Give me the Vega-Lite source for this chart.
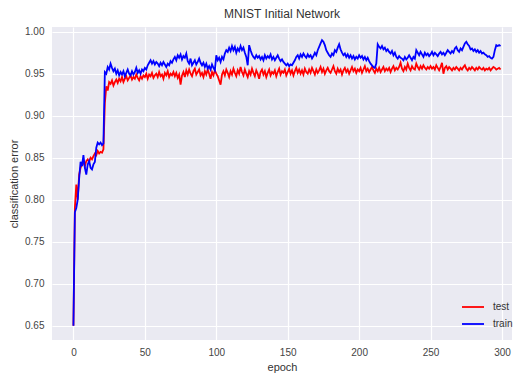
{
  "$schema": "https://vega.github.io/schema/vega-lite/v6.json",
  "autosize": "none",
  "width": 460,
  "height": 313,
  "padding": {"left": 52, "top": 27, "right": 2, "bottom": 33},
  "background": "white",
  "config": {
    "font": "Liberation Sans",
    "view": {"fill": "#EAEAF2", "stroke": null},
    "axis": {"domain": false, "ticks": false, "gridColor": "white", "gridWidth": 1.2, "labelColor": "#444", "labelFontSize": 10, "titleColor": "#333", "titleFontSize": 11, "titleFontWeight": "normal"},
    "title": {"fontSize": 12, "fontWeight": "normal", "color": "#333", "offset": 6}
  },
  "title": "MNIST Initial Network",
  "data": {"values": [
    {"epoch":0,"test":0.650,"train":0.650},{"epoch":1,"test":0.790,"train":0.785},{"epoch":2,"test":0.818,"train":0.790},{"epoch":3,"test":0.800,"train":0.800},{"epoch":4,"test":0.830,"train":0.825},{"epoch":5,"test":0.838,"train":0.845},{"epoch":6,"test":0.842,"train":0.840},{"epoch":7,"test":0.845,"train":0.853},{"epoch":8,"test":0.840,"train":0.838},{"epoch":9,"test":0.846,"train":0.830},
    {"epoch":10,"test":0.848,"train":0.842},{"epoch":11,"test":0.845,"train":0.846},{"epoch":12,"test":0.850,"train":0.838},{"epoch":13,"test":0.848,"train":0.836},{"epoch":14,"test":0.852,"train":0.842},{"epoch":15,"test":0.855,"train":0.845},{"epoch":16,"test":0.853,"train":0.862},{"epoch":17,"test":0.858,"train":0.868},{"epoch":18,"test":0.855,"train":0.866},{"epoch":19,"test":0.857,"train":0.868},
    {"epoch":20,"test":0.856,"train":0.865},{"epoch":21,"test":0.860,"train":0.867},{"epoch":22,"test":0.915,"train":0.952},{"epoch":23,"test":0.935,"train":0.950},{"epoch":24,"test":0.930,"train":0.958},{"epoch":25,"test":0.940,"train":0.955},{"epoch":26,"test":0.938,"train":0.962},{"epoch":27,"test":0.942,"train":0.957},{"epoch":28,"test":0.936,"train":0.953},{"epoch":29,"test":0.940,"train":0.956},
    {"epoch":30,"test":0.943,"train":0.950},{"epoch":31,"test":0.939,"train":0.954},{"epoch":32,"test":0.944,"train":0.948},{"epoch":33,"test":0.941,"train":0.952},{"epoch":34,"test":0.946,"train":0.949},{"epoch":35,"test":0.940,"train":0.953},{"epoch":36,"test":0.944,"train":0.947},{"epoch":37,"test":0.947,"train":0.951},{"epoch":38,"test":0.942,"train":0.955},{"epoch":39,"test":0.945,"train":0.950},
    {"epoch":40,"test":0.948,"train":0.948},{"epoch":41,"test":0.943,"train":0.953},{"epoch":42,"test":0.946,"train":0.949},{"epoch":43,"test":0.944,"train":0.952},{"epoch":44,"test":0.949,"train":0.957},{"epoch":45,"test":0.945,"train":0.951},{"epoch":46,"test":0.942,"train":0.954},{"epoch":47,"test":0.947,"train":0.950},{"epoch":48,"test":0.944,"train":0.955},{"epoch":49,"test":0.948,"train":0.953},
    {"epoch":50,"test":0.946,"train":0.957},{"epoch":51,"test":0.950,"train":0.955},{"epoch":52,"test":0.944,"train":0.960},{"epoch":53,"test":0.949,"train":0.963},{"epoch":54,"test":0.947,"train":0.966},{"epoch":55,"test":0.951,"train":0.962},{"epoch":56,"test":0.945,"train":0.965},{"epoch":57,"test":0.948,"train":0.961},{"epoch":58,"test":0.950,"train":0.964},{"epoch":59,"test":0.946,"train":0.962},
    {"epoch":60,"test":0.952,"train":0.959},{"epoch":61,"test":0.947,"train":0.963},{"epoch":62,"test":0.949,"train":0.960},{"epoch":63,"test":0.944,"train":0.964},{"epoch":64,"test":0.951,"train":0.961},{"epoch":65,"test":0.948,"train":0.958},{"epoch":66,"test":0.953,"train":0.962},{"epoch":67,"test":0.946,"train":0.960},{"epoch":68,"test":0.950,"train":0.965},{"epoch":69,"test":0.948,"train":0.963},
    {"epoch":70,"test":0.952,"train":0.967},{"epoch":71,"test":0.947,"train":0.970},{"epoch":72,"test":0.951,"train":0.966},{"epoch":73,"test":0.945,"train":0.972},{"epoch":74,"test":0.949,"train":0.969},{"epoch":75,"test":0.937,"train":0.973},{"epoch":76,"test":0.948,"train":0.967},{"epoch":77,"test":0.952,"train":0.971},{"epoch":78,"test":0.946,"train":0.969},{"epoch":79,"test":0.954,"train":0.974},
    {"epoch":80,"test":0.949,"train":0.965},{"epoch":81,"test":0.955,"train":0.962},{"epoch":82,"test":0.950,"train":0.968},{"epoch":83,"test":0.947,"train":0.960},{"epoch":84,"test":0.953,"train":0.963},{"epoch":85,"test":0.956,"train":0.966},{"epoch":86,"test":0.949,"train":0.961},{"epoch":87,"test":0.952,"train":0.964},{"epoch":88,"test":0.955,"train":0.968},{"epoch":89,"test":0.948,"train":0.963},
    {"epoch":90,"test":0.951,"train":0.960},{"epoch":91,"test":0.946,"train":0.963},{"epoch":92,"test":0.953,"train":0.958},{"epoch":93,"test":0.949,"train":0.962},{"epoch":94,"test":0.955,"train":0.956},{"epoch":95,"test":0.950,"train":0.959},{"epoch":96,"test":0.944,"train":0.955},{"epoch":97,"test":0.952,"train":0.961},{"epoch":98,"test":0.948,"train":0.957},{"epoch":99,"test":0.954,"train":0.954},
    {"epoch":100,"test":0.950,"train":0.972},{"epoch":101,"test":0.947,"train":0.966},{"epoch":102,"test":0.942,"train":0.969},{"epoch":103,"test":0.937,"train":0.964},{"epoch":104,"test":0.949,"train":0.970},{"epoch":105,"test":0.953,"train":0.967},{"epoch":106,"test":0.948,"train":0.974},{"epoch":107,"test":0.955,"train":0.978},{"epoch":108,"test":0.951,"train":0.976},{"epoch":109,"test":0.946,"train":0.981},
    {"epoch":110,"test":0.953,"train":0.977},{"epoch":111,"test":0.949,"train":0.983},{"epoch":112,"test":0.956,"train":0.978},{"epoch":113,"test":0.951,"train":0.982},{"epoch":114,"test":0.947,"train":0.975},{"epoch":115,"test":0.954,"train":0.980},{"epoch":116,"test":0.950,"train":0.977},{"epoch":117,"test":0.958,"train":0.983},{"epoch":118,"test":0.952,"train":0.978},{"epoch":119,"test":0.948,"train":0.981},
    {"epoch":120,"test":0.955,"train":0.975},{"epoch":121,"test":0.950,"train":0.970},{"epoch":122,"test":0.946,"train":0.960},{"epoch":123,"test":0.953,"train":0.984},{"epoch":124,"test":0.949,"train":0.978},{"epoch":125,"test":0.956,"train":0.973},{"epoch":126,"test":0.951,"train":0.970},{"epoch":127,"test":0.947,"train":0.968},{"epoch":128,"test":0.954,"train":0.972},{"epoch":129,"test":0.950,"train":0.969},
    {"epoch":130,"test":0.944,"train":0.971},{"epoch":131,"test":0.952,"train":0.967},{"epoch":132,"test":0.955,"train":0.970},{"epoch":133,"test":0.949,"train":0.966},{"epoch":134,"test":0.953,"train":0.972},{"epoch":135,"test":0.946,"train":0.968},{"epoch":136,"test":0.951,"train":0.971},{"epoch":137,"test":0.955,"train":0.969},{"epoch":138,"test":0.948,"train":0.973},{"epoch":139,"test":0.952,"train":0.967},
    {"epoch":140,"test":0.950,"train":0.970},{"epoch":141,"test":0.954,"train":0.966},{"epoch":142,"test":0.947,"train":0.969},{"epoch":143,"test":0.952,"train":0.972},{"epoch":144,"test":0.956,"train":0.968},{"epoch":145,"test":0.949,"train":0.965},{"epoch":146,"test":0.953,"train":0.967},{"epoch":147,"test":0.951,"train":0.964},{"epoch":148,"test":0.955,"train":0.962},{"epoch":149,"test":0.948,"train":0.960},
    {"epoch":150,"test":0.952,"train":0.962},{"epoch":151,"test":0.956,"train":0.959},{"epoch":152,"test":0.950,"train":0.961},{"epoch":153,"test":0.954,"train":0.960},{"epoch":154,"test":0.948,"train":0.963},{"epoch":155,"test":0.953,"train":0.966},{"epoch":156,"test":0.957,"train":0.970},{"epoch":157,"test":0.951,"train":0.972},{"epoch":158,"test":0.955,"train":0.968},{"epoch":159,"test":0.950,"train":0.973},
    {"epoch":160,"test":0.954,"train":0.970},{"epoch":161,"test":0.949,"train":0.974},{"epoch":162,"test":0.956,"train":0.971},{"epoch":163,"test":0.952,"train":0.969},{"epoch":164,"test":0.950,"train":0.973},{"epoch":165,"test":0.955,"train":0.970},{"epoch":166,"test":0.951,"train":0.972},{"epoch":167,"test":0.957,"train":0.968},{"epoch":168,"test":0.953,"train":0.971},{"epoch":169,"test":0.949,"train":0.975},
    {"epoch":170,"test":0.955,"train":0.972},{"epoch":171,"test":0.951,"train":0.978},{"epoch":172,"test":0.954,"train":0.982},{"epoch":173,"test":0.958,"train":0.986},{"epoch":174,"test":0.952,"train":0.990},{"epoch":175,"test":0.956,"train":0.988},{"epoch":176,"test":0.950,"train":0.984},{"epoch":177,"test":0.954,"train":0.978},{"epoch":178,"test":0.957,"train":0.975},{"epoch":179,"test":0.953,"train":0.972},
    {"epoch":180,"test":0.951,"train":0.970},{"epoch":181,"test":0.955,"train":0.974},{"epoch":182,"test":0.959,"train":0.972},{"epoch":183,"test":0.953,"train":0.978},{"epoch":184,"test":0.950,"train":0.976},{"epoch":185,"test":0.956,"train":0.981},{"epoch":186,"test":0.952,"train":0.985},{"epoch":187,"test":0.955,"train":0.979},{"epoch":188,"test":0.949,"train":0.975},{"epoch":189,"test":0.954,"train":0.972},
    {"epoch":190,"test":0.957,"train":0.974},{"epoch":191,"test":0.952,"train":0.970},{"epoch":192,"test":0.955,"train":0.973},{"epoch":193,"test":0.950,"train":0.969},{"epoch":194,"test":0.954,"train":0.972},{"epoch":195,"test":0.958,"train":0.968},{"epoch":196,"test":0.953,"train":0.971},{"epoch":197,"test":0.956,"train":0.967},{"epoch":198,"test":0.951,"train":0.970},{"epoch":199,"test":0.955,"train":0.968},
    {"epoch":200,"test":0.953,"train":0.972},{"epoch":201,"test":0.957,"train":0.969},{"epoch":202,"test":0.951,"train":0.971},{"epoch":203,"test":0.955,"train":0.967},{"epoch":204,"test":0.959,"train":0.970},{"epoch":205,"test":0.953,"train":0.966},{"epoch":206,"test":0.956,"train":0.969},{"epoch":207,"test":0.952,"train":0.965},{"epoch":208,"test":0.955,"train":0.962},{"epoch":209,"test":0.958,"train":0.960},
    {"epoch":210,"test":0.954,"train":0.958},{"epoch":211,"test":0.951,"train":0.957},{"epoch":212,"test":0.956,"train":0.962},{"epoch":213,"test":0.953,"train":0.985},{"epoch":214,"test":0.957,"train":0.982},{"epoch":215,"test":0.952,"train":0.980},{"epoch":216,"test":0.955,"train":0.983},{"epoch":217,"test":0.958,"train":0.979},{"epoch":218,"test":0.953,"train":0.981},{"epoch":219,"test":0.956,"train":0.977},
    {"epoch":220,"test":0.954,"train":0.979},{"epoch":221,"test":0.957,"train":0.976},{"epoch":222,"test":0.952,"train":0.974},{"epoch":223,"test":0.956,"train":0.977},{"epoch":224,"test":0.959,"train":0.972},{"epoch":225,"test":0.954,"train":0.975},{"epoch":226,"test":0.957,"train":0.970},{"epoch":227,"test":0.955,"train":0.968},{"epoch":228,"test":0.958,"train":0.971},{"epoch":229,"test":0.963,"train":0.969},
    {"epoch":230,"test":0.956,"train":0.968},{"epoch":231,"test":0.953,"train":0.966},{"epoch":232,"test":0.958,"train":0.970},{"epoch":233,"test":0.955,"train":0.967},{"epoch":234,"test":0.962,"train":0.969},{"epoch":235,"test":0.957,"train":0.972},{"epoch":236,"test":0.954,"train":0.969},{"epoch":237,"test":0.959,"train":0.966},{"epoch":238,"test":0.956,"train":0.970},{"epoch":239,"test":0.955,"train":0.968},
    {"epoch":240,"test":0.962,"train":0.978},{"epoch":241,"test":0.958,"train":0.975},{"epoch":242,"test":0.955,"train":0.972},{"epoch":243,"test":0.959,"train":0.976},{"epoch":244,"test":0.956,"train":0.973},{"epoch":245,"test":0.960,"train":0.970},{"epoch":246,"test":0.957,"train":0.975},{"epoch":247,"test":0.955,"train":0.972},{"epoch":248,"test":0.958,"train":0.974},{"epoch":249,"test":0.956,"train":0.971},
    {"epoch":250,"test":0.959,"train":0.973},{"epoch":251,"test":0.956,"train":0.976},{"epoch":252,"test":0.958,"train":0.972},{"epoch":253,"test":0.955,"train":0.975},{"epoch":254,"test":0.960,"train":0.973},{"epoch":255,"test":0.957,"train":0.971},{"epoch":256,"test":0.954,"train":0.974},{"epoch":257,"test":0.958,"train":0.976},{"epoch":258,"test":0.963,"train":0.973},{"epoch":259,"test":0.950,"train":0.975},
    {"epoch":260,"test":0.957,"train":0.972},{"epoch":261,"test":0.959,"train":0.975},{"epoch":262,"test":0.955,"train":0.978},{"epoch":263,"test":0.958,"train":0.976},{"epoch":264,"test":0.956,"train":0.974},{"epoch":265,"test":0.954,"train":0.977},{"epoch":266,"test":0.957,"train":0.975},{"epoch":267,"test":0.955,"train":0.980},{"epoch":268,"test":0.958,"train":0.982},{"epoch":269,"test":0.956,"train":0.978},
    {"epoch":270,"test":0.954,"train":0.976},{"epoch":271,"test":0.957,"train":0.980},{"epoch":272,"test":0.955,"train":0.978},{"epoch":273,"test":0.958,"train":0.982},{"epoch":274,"test":0.960,"train":0.986},{"epoch":275,"test":0.956,"train":0.988},{"epoch":276,"test":0.954,"train":0.985},{"epoch":277,"test":0.957,"train":0.983},{"epoch":278,"test":0.955,"train":0.979},{"epoch":279,"test":0.958,"train":0.980},
    {"epoch":280,"test":0.956,"train":0.977},{"epoch":281,"test":0.954,"train":0.979},{"epoch":282,"test":0.957,"train":0.976},{"epoch":283,"test":0.955,"train":0.978},{"epoch":284,"test":0.958,"train":0.975},{"epoch":285,"test":0.956,"train":0.977},{"epoch":286,"test":0.955,"train":0.974},{"epoch":287,"test":0.957,"train":0.975},{"epoch":288,"test":0.954,"train":0.973},{"epoch":289,"test":0.956,"train":0.972},
    {"epoch":290,"test":0.955,"train":0.970},{"epoch":291,"test":0.957,"train":0.971},{"epoch":292,"test":0.954,"train":0.969},{"epoch":293,"test":0.956,"train":0.968},{"epoch":294,"test":0.958,"train":0.970},{"epoch":295,"test":0.957,"train":0.978},{"epoch":296,"test":0.955,"train":0.984},{"epoch":297,"test":0.956,"train":0.983},{"epoch":298,"test":0.957,"train":0.984},{"epoch":299,"test":0.955,"train":0.983}
  ]},
  "transform": [{"fold": ["test", "train"], "as": ["series", "value"]}],
  "mark": {"type": "line", "strokeWidth": 1.8, "clip": true},
  "encoding": {
    "x": {"field": "epoch", "type": "quantitative", "title": "epoch",
      "scale": {"domain": [-15, 307], "nice": false, "zero": false},
      "axis": {"values": [0, 50, 100, 150, 200, 250, 300], "labelPadding": 7, "titlePadding": 4}},
    "y": {"field": "value", "type": "quantitative", "title": "classification error",
      "scale": {"domain": [0.633, 1.0056], "nice": false, "zero": false},
      "axis": {"values": [0.65, 0.7, 0.75, 0.8, 0.85, 0.9, 0.95, 1.0], "format": ".2f", "labelPadding": 8, "titlePadding": 5}},
    "color": {"field": "series", "type": "nominal", "title": null,
      "scale": {"domain": ["test", "train"], "range": ["#ff0000", "#0000ff"]},
      "legend": {"orient": "none", "legendX": 409, "legendY": 268, "symbolType": "stroke", "symbolStrokeWidth": 1.8, "symbolSize": 484, "labelFontSize": 10, "labelColor": "#333", "labelOffset": 8, "rowPadding": -6, "fillColor": null, "strokeColor": null}},
    "order": {"field": "epoch", "type": "quantitative"}
  }
}
